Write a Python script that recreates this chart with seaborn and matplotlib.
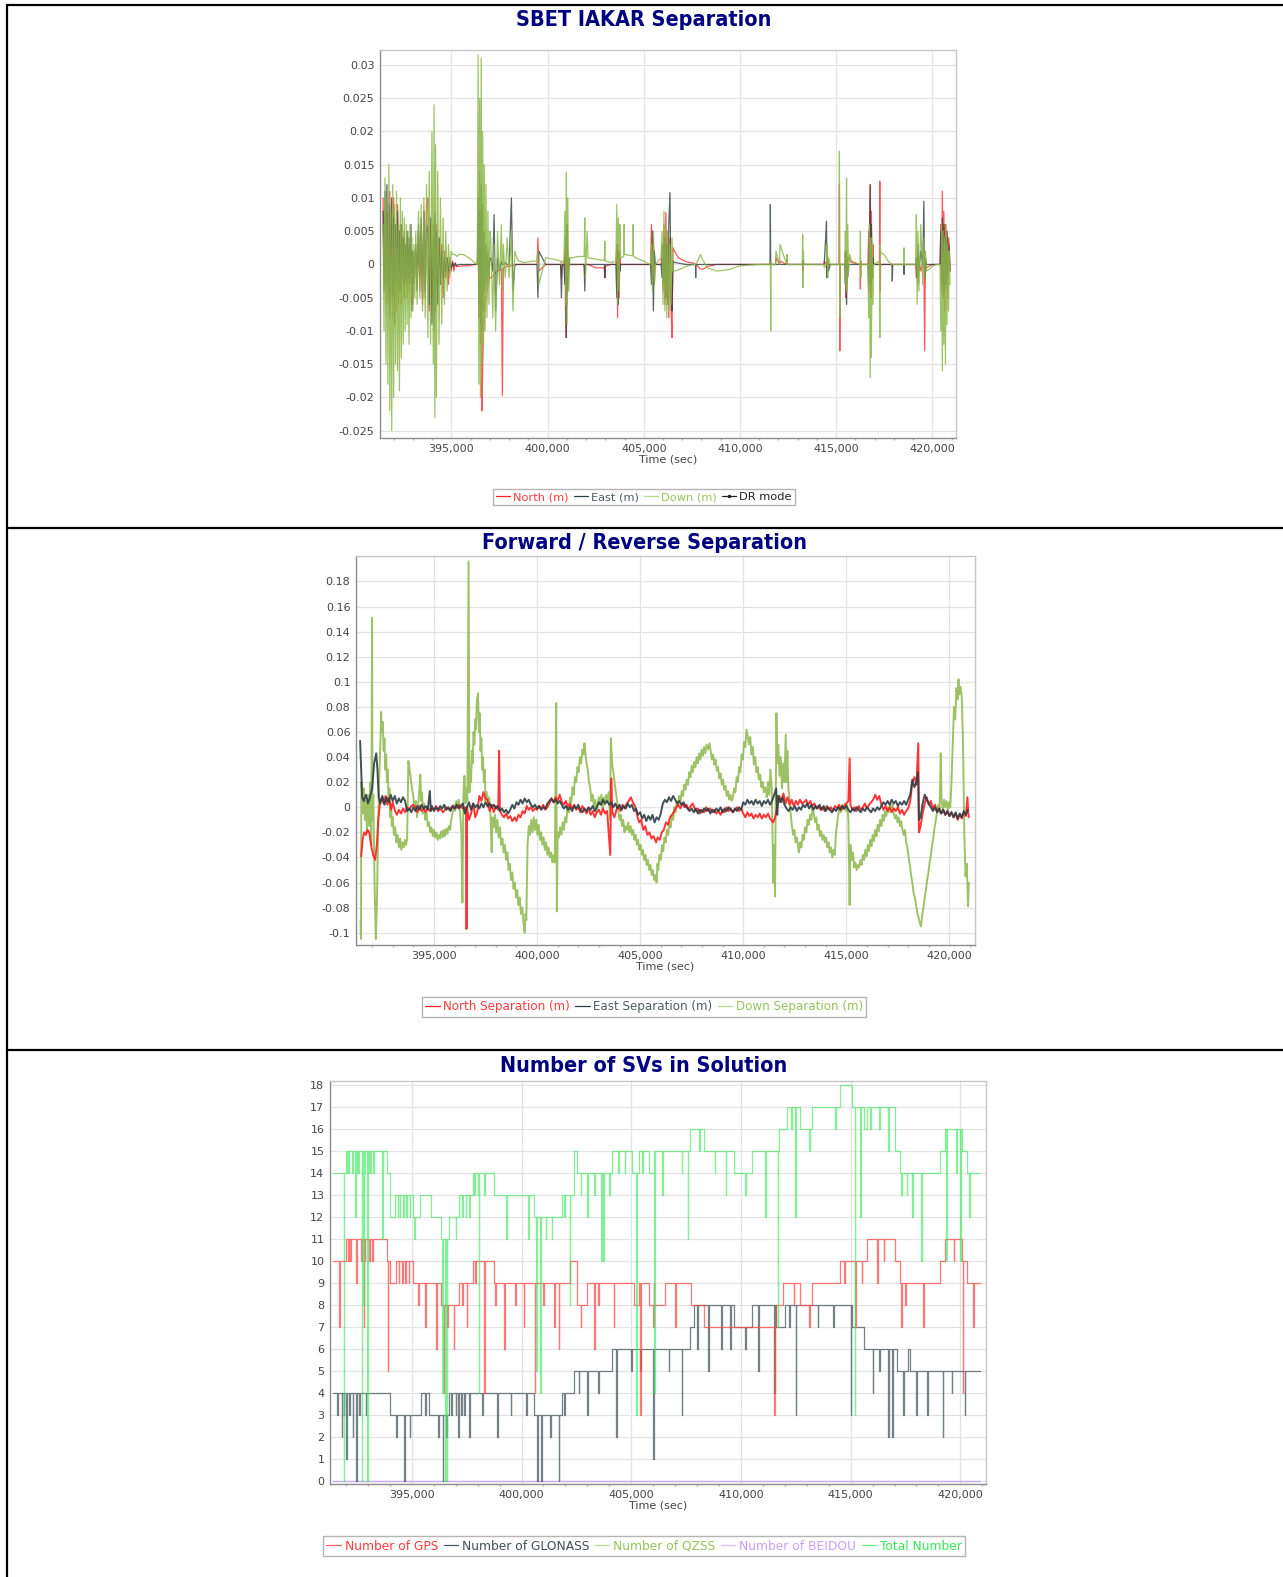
import numpy as np
import matplotlib
matplotlib.use("Agg")
import matplotlib.pyplot as plt
from matplotlib.lines import Line2D
from matplotlib.ticker import MultipleLocator
import seaborn as sns

W, H = 1283, 1577

# ---------------- SBET IAKAR separation, values in mm, shared time grid ----------------
sbet_time = [
    391450, 391500, 391550, 391600, 391650, 391700, 391750, 391800, 391850, 391900, 391950, 392000, 392050, 392100, 392150, 392200, 392250,
    392300, 392350, 392400, 392450, 392500, 392550, 392600, 392650, 392700, 392750, 392800, 392850, 392900, 392950, 393000, 393050, 393100,
    393150, 393220, 393290, 393360, 393430, 393500, 393570, 393640, 393710, 393780, 393850, 393920, 393990, 394060, 394100, 394140, 394180,
    394220, 394290, 394360, 394430, 394500, 394570, 394640, 394710, 394780, 394850, 394920, 394990, 395060, 395130, 395200, 395270,
    395400, 395600, 395800, 396000, 396200, 396330,
    396350, 396390, 396430, 396470, 396510, 396550, 396590, 396630, 396670, 396710, 396750, 396800, 396850, 396900, 396950, 397000,
    397050, 397150, 397220, 397300, 397400, 397500, 397600, 397650, 397700, 397800, 397900, 398000, 398120, 398200, 398300, 398400, 398500,
    398800, 399200, 399450, 399500, 399550, 399900, 400300, 400680, 400720, 400760,
    400850, 400900, 400950, 400980, 401010, 401050, 401100, 401150,
    401300, 401600, 401900, 401935, 401970, 402056, 402100, 402500, 402950, 402975, 403000, 403300,
    403550, 403600, 403640, 403680, 403720, 403760, 403800,
    403960, 403980, 404000, 404430, 404448, 404470, 404600, 405000,
    405350, 405400, 405450, 405500, 405550, 405600,
    405900, 405950, 406000, 406050, 406100, 406150, 406200, 406250, 406300, 406360, 406420, 406470, 406520,
    406600, 406800, 407200, 407600,
    407690, 407700, 407710, 407950, 408000, 408100, 408300,
    408800, 409400, 410000, 411000,
    411560, 411580, 411600, 411620, 411640,
    411850, 411870, 412060, 412080, 412430, 412450, 412470,
    413240, 413260, 413280, 413300, 413320,
    414360, 414380, 414500, 414520, 414560, 414600, 414700,
    415150, 415170, 415190, 415210, 415450, 415480, 415510, 415540, 415570, 415600, 415650, 415700, 415750, 415800,
    416240, 416260, 416280, 416300,
    416650, 416690, 416730, 416770, 416800, 416830, 416870, 416910, 416950,
    417250, 417270, 417290, 417310, 417500, 417700,
    417900, 417920, 417940, 418510, 418530, 418550,
    419130, 419170, 419210, 419250, 419300, 419400, 419500, 419560, 419600, 419640, 419700, 419800, 420000, 420200,
    420400, 420440, 420480, 420520, 420560, 420600, 420640, 420680, 420720, 420760, 420800, 420840, 420880, 420920,
]
sbet_north_mm = [
    10, -3, 5, -6, 8, 2, -4, 11, -5, 6, -8, 10, -2, 5, -7, 9, 3, -4, 6, -6, 4, -3, 5, -2, 3, -5, 2, -4, 3, -1, 2, -6, 1, -2,
    2, -3, 5, -4, 6, -6, 8, -5, 9, 10, -7, 6, -5, 4, -8, 7, -4, 6, -3, 4, -2, 3, -5, 2, -2, 1, -3, 1, -1, 0.5, -1, 0.2, -0.3,
    -0.3, -0.2, -0.2, -0.1, 0, 0,
    0, 5, -8, 14, -12, 8, -22, -15, -10, -8, -6, -5, -4, -3, -2.5, -2,
    -2, -1.8, -1.5, -1.2, -1.0, -0.8, -0.7, -19.7, -0.5, -0.4, -0.3, -0.2, -0.2, -0.1, -0.1, 0, 0,
    0, 0, 0, 4, -1, 0, 0, 0, -2, 0,
    0, 2, -11, 3, -6, 2, -1, 0,
    0, 0, 0, -1.5, 0, 0, 0, -0.5, -0.5, -2, -0.3, 0,
    0, 3, -8, 2, -5, 1, 0,
    0, 0, 0, 0, 0, 0, 0, 0,
    0, 6, -2, 4, -3, 0,
    0, 3, -4, 6, -6, 7.8, -5, 5, -8, 4, -7, -11, 2.5,
    2, 1, 0.4, 0.2,
    0, 0, 0, -0.7, -0.7, -0.7, -0.3,
    0, 0, 0, 0,
    0, 0, 0, 0, 0,
    0, 1, 0, 0.5, 0, 0.8, 0,
    0, 0.5, -1, 0.3, 0,
    0, 0.5, 0, -0.5, 0.3, 0, 0,
    0, 12, -13, 0, 0, 2, -5, 1, -3, 0.5, 1, 0.8, 0.5, 0.3,
    0, -3.7, 0.5, 0,
    0, 5, -4, 12, -3, 8, -2, 3, 0,
    0, 12.5, -4, 0, 0, 0,
    0, 0, 0, 0, 0, 0,
    0, -2, 1, -3, 0.5, -1, 0.3, 0, -13, 0.5, -0.5, -0.3, 0, 0,
    0, 6, -4, 11, -3, 8, -7, 6, -2, 5, -5, 4, 3, -1,
]
sbet_east_mm = [
    8, -4, 11, -3, 12, -6, 9, -8, 4, 10, -5, 7, -9, 6, -3, 8, -6, 5, -4, 6, -2, 4, -5, 3, -3, 5, -2, 4, -3, 6, -7, 2, -3, 1,
    3, -4, 6, -2, 7, -5, 8, -4, 6, 5, -6, 7, -9, 6, -10, 8, -7, 5, -6, 4, -3, 2, -2, 1, -1, 1, -1, 0.5, -0.5, 0.3, -0.3, 0.2, -0.2,
    0, 0, 0, 0, 0, 0,
    0, 10, -6, 8, -9, 12, -10, 9, -7, 5, -4, 3, -3, 2, -2, 1,
    1, -1, 7.5, -7, 1, -1, 0.5, 0, 0, 0.3, 0, 0, 10, -4, 0, 0, 0,
    0, 0, 0, -5, 2, 0, 0, 0, -5, 0,
    0, -3, 4, -11, 6, -4, 1, 0,
    0, 0, 0, -4, 0, 0, 0, 0, 0, -2, 0, 0,
    0, -5, 3, -6, 2, -1, 0,
    0, 0, 0, 0, 0, 0, 0, 0,
    0, -3, 5, -7, 2, 0,
    0, -2, 3, -3, 4, -5, 3, -6, 6, 10.8, -5, -7, 0.5,
    0.3, 0.2, 0, 0,
    0, -2, 0, 0, 0, 0, 0,
    0, 0, 0, 0,
    0, 9, 0, 0, 0,
    0, 0, 0, 0, 0, 0, 0,
    0, 0, 0.5, 0, 0,
    0, 0, 6.5, -2, 1, -1, 0,
    0, 0, 0, 0, 0, -3, 2, -6, 1, -2, 0, 0, 0, 0,
    0, 0, 0, 0,
    0, -3, 4, 12, -5, 6, -2, 1, 0,
    0, 0, 0, 0, 0, 0,
    0, -2.5, 0, 0, -1.5, 0,
    0, 1, -2, 3, -1, 2, 0, 9.5, -2, 1, 0, 0, 0, 0,
    0, 5, -3, 7, -5, 6, -4, 4, -3, 5, -2, 3, 2, -1,
]
sbet_down_mm = [
    6, -10, 13, -15, 10, -18, 15, -22, 8, -25, 12, -20, 9, -15, 11, -16, 6, -19, 10, -14, 8, -12, 7, -10, 6, -9, 5, -12, 6, -8, 4, -7, 3, -5,
    5, -6, 8, -5, 9, -7, 10, -8, 12, -11, 14, -12, 20, -15, 24, -23, 18, -20, 14, -12, 10, -9, 7, -6, 5, -4, 3, -2, 2, 1.5, 1.5, 1.5, 1.2,
    1.5, 1.5, 1.2, 0.8, 0.3, 0,
    0, 31.5, -18, 25, -20, 31, -15, 20, -12, 15, -10, 12, -8, 8, -6, 5,
    4, -8, 3, -10, 5, -3, 6, -4, 3, -2, 4, -2, 5, -7, 2, 1, 0.5,
    0.3, 0.5, 0.5, 2, -3, 1, 0.8, 0.5, 0, 0.5,
    0.5, 8, -6, 13.8, -9, 10, -4, 1,
    1, 1.2, 1.2, 7, -2, 5, 1, 0.8, 0.6, 3.5, 0.5, 0.3,
    0.5, 9, -6, 7, -4, 6, 1,
    1.2, 6, 1.5, 1.3, 6, 1.2, 1.0, 0.5,
    0, 3, -4, 5, -3, 0,
    1, 5, -6, 8, -7, 6, -8, 5, -7, 3, -6, 4, -1,
    -1, -0.8, -0.3, 0,
    0, 0, 0, 1.5, 1.0, 0.5, -0.5,
    -1, -0.8, -0.2, 0,
    0, 0, -10, 0.5, 0,
    0, 2, 0, 3, 0, 1.5, 0,
    0, 4.5, -3.5, 2, 0,
    0, -0.5, 0, 3, -2, 1, 0,
    0, 17, -8, 0, 0, 5, -3, 13, -4, 6, -1, 1.5, 1, 0.5,
    0, 5, -2, 0,
    0, -8, 6, -17, 4, -14, 3, -6, 0,
    0.5, -11, 3, 1.8, 1.5, 0.5,
    0, 0, 0, 0, 2.5, 0,
    0, 7.5, -6, 5, -4, 6, -3, 4, -2, 2, -1, -0.8, -0.3, 0,
    0, -10, 6, -16, 5, -12, 4, -15, 6, -9, 3, -7, 2, -3,
]

# ---------------- Forward / reverse separation, (time, cm) ----------------
fr_north_cm = [
    (391470, -3.9), (391550, -2.5), (391620, -2.0), (391700, -2.2), (391780, -1.8), (391860, -2.0), (391950, -3.0), (392050, -3.8),
    (392150, -4.2), (392230, -3.0), (392300, -1.0), (392380, 0.3), (392470, 0.8), (392560, 0.3), (392650, 0.9), (392740, 0.2),
    (392830, 0.7), (392920, -0.2), (393000, 0.4), (393110, -0.3), (393200, -0.6), (393300, -0.2), (393400, -0.5), (393500, -0.1),
    (393600, -0.4), (393700, 0.0), (393800, -0.2), (393900, 0.1), (394000, 0.2), (394100, 0.0), (394200, -0.4), (394300, 0.1),
    (394400, -0.3), (394500, -0.1), (394600, -0.4), (394700, 0.0), (394800, -0.3), (394900, -0.1), (395000, -0.2), (395100, 0.1),
    (395200, -0.3), (395300, -0.1), (395450, -0.4), (395600, 0.0), (395750, -0.2), (395900, 0.1), (396050, -0.1), (396200, 0.2),
    (396400, -0.1), (396560, 0.0), (396580, -9.7), (396600, 0.0), (396700, -1.0), (396800, -0.5), (396900, 0.3), (397000, -0.8),
    (397100, -0.4), (397200, 0.9), (397300, 0.5), (397400, 1.2), (397500, 0.7), (397600, 0.6), (397700, -0.3), (397800, 0.2),
    (397900, -0.4), (398000, 0.1), (398120, -0.2), (398160, 4.5), (398200, -0.3), (398300, -0.6), (398400, -0.8), (398500, -0.5),
    (398600, -0.9), (398700, -0.7), (398800, -1.1), (398920, -0.8), (399000, -1.1), (399100, -0.6), (399200, -0.8), (399300, -0.3),
    (399400, -0.5), (399500, 0.1), (399600, -0.2), (399700, 0.0), (399800, -0.3), (399900, -0.1), (400000, -0.2), (400100, 0.1),
    (400200, -0.1), (400300, 0.2), (400400, -0.2), (400500, 0.0), (400600, 0.3), (400700, 0.7), (400800, 0.4), (400900, 0.8),
    (401000, 0.5), (401100, 1.0), (401200, 0.4), (401300, 0.2), (401400, 0.5), (401500, 0.0), (401600, 0.3), (401700, -0.1),
    (401800, 0.2), (401900, -0.2), (402000, 0.0), (402100, -0.4), (402200, 0.1), (402300, -0.2), (402400, -0.5), (402500, -0.1),
    (402600, -0.6), (402700, -0.3), (402800, -0.8), (402900, -0.4), (403000, -0.2), (403100, -0.6), (403200, -0.1), (403300, -0.5),
    (403400, -0.3), (403550, -3.8), (403600, 2.3), (403650, -0.4), (403750, -0.8), (403850, -0.2), (403950, 0.1), (404050, -0.3),
    (404150, 0.2), (404250, -0.1), (404350, 0.3), (404450, 0.5), (404550, 0.8), (404650, 0.4), (404750, 0.1), (404850, -0.6),
    (404950, -1.2), (405050, -1.0), (405150, -1.8), (405250, -1.5), (405350, -2.2), (405450, -2.0), (405550, -2.5), (405650, -2.3),
    (405770, -2.8), (405850, -2.4), (405950, -2.6), (406050, -2.0), (406150, -1.8), (406250, -1.2), (406350, -1.4), (406450, -0.8),
    (406550, -0.6), (406650, -0.3), (406750, 0.0), (406850, 0.2), (406950, -0.1), (407050, 0.3), (407150, 0.0), (407250, 0.2),
    (407350, -0.2), (407450, 0.1), (407550, 0.3), (407700, -0.3), (407800, -0.1), (407900, -0.5), (408000, -0.2), (408100, -0.4),
    (408200, 0.0), (408300, -0.3), (408400, -0.1), (408500, -0.4), (408600, -0.2), (408700, -0.5), (408800, -0.3), (408900, -0.6),
    (409000, -0.2), (409100, -0.4), (409200, 0.0), (409300, -0.3), (409400, -0.1), (409500, -0.4), (409600, -0.2), (409700, 0.0),
    (409800, -0.3), (409900, -0.1), (410000, -0.5), (410100, -0.8), (410200, -0.4), (410300, -0.7), (410400, -0.5), (410500, -0.9),
    (410600, -0.6), (410700, -0.8), (410800, -0.5), (410900, -0.9), (411000, -0.6), (411100, -0.8), (411200, -0.5), (411300, -0.9),
    (411450, -1.2), (411550, -0.8), (411650, 0.2), (411750, 0.9), (411850, 0.4), (411950, 1.1), (412050, 0.3), (412150, 0.8),
    (412250, 0.2), (412350, 0.6), (412450, 0.1), (412550, 0.5), (412650, 0.2), (412750, 0.6), (412850, 0.3), (412950, 0.4),
    (413050, 0.6), (413150, 0.2), (413250, 0.5), (413350, 0.1), (413450, 0.3), (413550, -0.1), (413650, 0.1), (413750, -0.2),
    (413850, 0.0), (413950, -0.3), (414050, 0.1), (414150, -0.2), (414250, 0.0), (414350, -0.3), (414450, 0.1), (414550, -0.1),
    (414650, 0.2), (414750, -0.2), (414850, 0.0), (414950, 0.2), (415100, 0.5), (415160, 3.9), (415200, 0.2), (415300, -0.2),
    (415400, 0.0), (415500, -0.3), (415600, 0.1), (415700, -0.2), (415800, 0.0), (415900, 0.3), (416000, -0.1), (416100, 0.2),
    (416200, 0.4), (416300, 0.6), (416400, 1.0), (416500, 0.6), (416600, 0.9), (416700, 0.2), (416800, -0.2), (416900, 0.1),
    (417000, -0.3), (417100, 0.0), (417200, -0.4), (417300, -0.1), (417400, -0.3), (417500, 0.0), (417600, -0.5), (417700, -0.2),
    (417800, -0.6), (417900, -0.3), (418000, -0.1), (418100, 0.5), (418200, 2.0), (418300, 2.4), (418400, 1.8), (418490, 5.1),
    (418520, -2.0), (418600, -1.5), (418700, -0.5), (418800, 0.3), (418900, 0.8), (419000, 0.2), (419100, 0.5), (419200, -0.1),
    (419300, 0.2), (419400, -0.3), (419500, -0.1), (419600, -0.5), (419700, -0.2), (419800, -0.6), (419900, -0.3), (420000, -0.7),
    (420100, -0.4), (420200, -0.8), (420300, -0.5), (420400, -1.0), (420500, -0.6), (420600, -0.9), (420700, -0.4), (420800, -0.7),
    (420870, 0.8), (420930, -0.8),
]
fr_east_cm = [
    (391420, 5.3), (391470, 3.0), (391520, 0.8), (391600, 0.5), (391700, 1.0), (391800, 0.3), (391900, 0.8), (392000, 1.5),
    (392100, 3.5), (392200, 4.3), (392260, 3.0), (392320, 0.8), (392400, 0.3), (392500, 0.9), (392600, 0.2), (392700, 0.8),
    (392800, 0.4), (392900, 1.0), (393000, 0.5), (393100, 0.9), (393200, 0.3), (393300, 0.7), (393400, 0.4), (393500, 0.8),
    (393600, 0.5), (393700, -0.3), (393800, -0.1), (393900, -0.4), (394000, 0.0), (394100, -0.3), (394200, 0.1), (394300, -0.2),
    (394400, 0.2), (394500, -0.1), (394600, 0.1), (394700, -0.2), (394800, 1.3), (394850, -0.3), (394900, 0.1), (395000, -0.3),
    (395100, 0.0), (395200, -0.2), (395300, 0.1), (395400, -0.1), (395500, 0.2), (395600, -0.2), (395700, 0.0), (395800, -0.3),
    (395900, 0.1), (396000, -0.1), (396100, 0.2), (396200, -0.1), (396300, 0.1), (396400, 0.3), (396500, -0.5), (396600, 0.0),
    (396700, 0.4), (396800, -0.2), (396900, 0.3), (397000, 0.0), (397100, 0.2), (397200, -0.1), (397300, 0.3), (397400, 0.0),
    (397500, 0.4), (397600, 0.1), (397700, 0.3), (397800, 0.0), (397900, 0.2), (398000, -0.1), (398100, 0.1), (398200, -0.3),
    (398300, -0.1), (398400, -0.4), (398500, -0.2), (398600, -0.5), (398700, -0.2), (398800, 0.2), (398900, -0.1), (399000, 0.4),
    (399100, 0.2), (399200, 0.6), (399300, 0.3), (399400, 0.7), (399500, 0.4), (399600, 0.6), (399700, 0.2), (399800, 0.0),
    (399900, 0.2), (400000, -0.1), (400100, 0.1), (400200, -0.2), (400300, 0.0), (400400, -0.1), (400500, 0.3), (400600, 0.5),
    (400700, 0.7), (400800, 0.4), (400900, 0.6), (401000, 0.3), (401100, 0.5), (401200, 0.2), (401300, -0.1), (401400, 0.1),
    (401500, -0.2), (401600, 0.0), (401700, -0.3), (401800, 0.1), (401900, -0.1), (402000, 0.2), (402100, -0.2), (402200, -0.4),
    (402300, -0.1), (402400, -0.3), (402500, 0.0), (402600, -0.2), (402700, 0.1), (402800, -0.3), (402900, 0.0), (403000, 0.4),
    (403100, 0.2), (403200, 0.6), (403300, 0.3), (403400, 0.5), (403500, 0.2), (403600, 0.4), (403700, 0.0), (403800, 0.3),
    (403900, -0.1), (404000, 0.2), (404100, -0.2), (404200, 0.1), (404300, -0.1), (404400, 0.3), (404500, 0.0), (404600, 0.2),
    (404700, -0.3), (404800, -0.1), (404900, -0.6), (405000, -0.4), (405100, -0.9), (405200, -0.6), (405300, -1.1), (405400, -0.7),
    (405500, -1.0), (405600, -0.6), (405700, -1.2), (405800, -0.8), (405900, -1.0), (406000, -0.5), (406100, 0.3), (406200, 0.6),
    (406300, 0.4), (406400, 0.8), (406500, 0.5), (406600, 0.9), (406700, 0.6), (406800, 0.3), (406900, 0.5), (407000, 0.2),
    (407100, 0.4), (407200, 0.1), (407300, -0.1), (407400, -0.3), (407500, -0.1), (407600, -0.4), (407700, -0.1), (407800, -0.5),
    (407900, -0.2), (408000, -0.4), (408100, -0.1), (408200, -0.3), (408300, -0.1), (408400, -0.5), (408500, -0.2), (408600, -0.4),
    (408700, -0.1), (408800, -0.3), (408900, 0.0), (409000, -0.4), (409100, -0.1), (409200, -0.3), (409300, 0.0), (409400, -0.2),
    (409500, -0.4), (409600, -0.1), (409700, -0.3), (409800, 0.0), (409900, -0.2), (410000, 0.4), (410100, 0.2), (410200, 0.6),
    (410300, 0.3), (410400, 0.5), (410500, 0.2), (410600, 0.6), (410700, 0.3), (410800, 0.5), (410900, 0.1), (411000, 0.5),
    (411100, 0.3), (411200, 0.6), (411300, 0.2), (411400, 0.5), (411500, 1.0), (411600, 1.5), (411650, -0.6), (411700, 0.9),
    (411800, 0.4), (411900, 0.8), (412000, 0.2), (412100, -0.1), (412200, -0.3), (412300, 0.0), (412400, -0.2), (412500, 0.1),
    (412600, -0.3), (412700, 0.0), (412800, -0.2), (412900, 0.2), (413000, 0.0), (413100, 0.3), (413200, -0.1), (413300, 0.2),
    (413400, -0.2), (413500, 0.1), (413600, -0.1), (413700, 0.2), (413800, -0.2), (413900, 0.1), (414000, -0.3), (414100, 0.0),
    (414200, -0.2), (414300, -0.4), (414400, -0.1), (414500, -0.3), (414600, 0.0), (414700, -0.2), (414800, 0.1), (414900, -0.1),
    (415000, 0.1), (415100, -0.2), (415200, -0.4), (415300, -0.1), (415400, -0.3), (415500, 0.0), (415600, -0.2), (415700, -0.4),
    (415800, -0.1), (415900, -0.3), (416000, 0.0), (416100, -0.2), (416200, -0.4), (416300, -0.1), (416400, -0.3), (416500, 0.0),
    (416600, -0.2), (416700, 0.1), (416800, 0.4), (416900, 0.2), (417000, 0.5), (417100, 0.2), (417200, 0.6), (417300, 0.3),
    (417400, 0.5), (417500, 0.1), (417600, 0.4), (417700, 0.2), (417800, 0.5), (417900, 0.2), (418000, 0.6), (418100, 1.0),
    (418200, 2.2), (418300, 1.6), (418400, 2.0), (418480, 2.8), (418520, -1.0), (418600, -0.8), (418700, 0.3), (418800, 1.0),
    (418900, 0.6), (419000, 0.3), (419100, 0.0), (419200, -0.3), (419300, 0.0), (419400, -0.4), (419500, -0.1), (419600, -0.5),
    (419700, -0.2), (419800, -0.6), (419900, -0.3), (420000, -0.7), (420100, -0.4), (420200, -0.8), (420300, -0.4), (420400, -0.9),
    (420500, -0.5), (420600, -0.8), (420700, -0.3), (420800, -0.6), (420900, -0.2),
]
fr_down_cm = [
    (391440, -9.0), (391460, -10.5), (391480, 2.0), (391520, 1.0), (391560, -0.5), (391600, 1.5), (391650, -1.0), (391700, 0.5),
    (391750, -2.0), (391800, 1.0), (391860, -1.5), (391920, 2.0), (391960, -3.0), (392000, 15.1), (392020, -1.0), (392060, 1.0),
    (392120, -6.0), (392180, -10.5), (392230, -8.0), (392280, -3.0), (392340, 2.0), (392400, 5.0), (392440, 7.6), (392480, 6.0),
    (392520, 6.8), (392560, 4.5), (392600, 5.5), (392640, 3.0), (392680, 4.2), (392720, 2.0), (392760, 3.0), (392800, 0.5),
    (392840, 1.5), (392880, -0.8), (392920, 0.2), (392960, -1.5), (393000, -0.8), (393060, -2.2), (393120, -1.6), (393180, -2.8),
    (393240, -2.2), (393300, -3.2), (393360, -2.5), (393420, -3.4), (393480, -2.8), (393540, -3.2), (393600, -2.6), (393650, -3.0),
    (393700, -2.5), (393760, 3.7), (393820, 3.0), (393880, 2.2), (393940, 1.5), (394000, 0.8), (394060, 0.0), (394120, 0.5),
    (394180, -0.8), (394240, 0.3), (394300, 1.5), (394340, 2.6), (394380, 0.5), (394420, 1.2), (394460, -0.5), (394520, 0.3),
    (394580, -1.0), (394640, -0.5), (394700, -1.5), (394760, -1.2), (394820, -2.0), (394880, -1.6), (394940, -2.3), (395000, -1.8),
    (395060, -2.4), (395120, -2.0), (395180, -2.6), (395240, -2.2), (395300, -2.5), (395360, -1.9), (395420, -2.4), (395480, -1.8),
    (395540, -2.3), (395600, -1.7), (395660, -2.1), (395720, -1.5), (395780, -1.8), (395840, -1.0), (395900, -0.5), (395960, 0.2),
    (396020, -0.3), (396080, 0.5), (396140, 0.0), (396200, 0.6), (396260, -0.2), (396330, -2.0), (396380, -7.6), (396430, 1.0),
    (396480, 2.5), (396530, 0.3), (396580, 1.5), (396620, 0.5), (396680, 19.6), (396720, 1.2), (396760, 3.0), (396800, 2.0),
    (396840, 4.5), (396880, 3.5), (396920, 6.0), (396960, 5.0), (397000, 7.0), (397040, 6.2), (397080, 8.5), (397140, 9.1),
    (397180, 6.0), (397220, 7.5), (397260, 4.5), (397300, 5.5), (397340, 3.0), (397380, 4.0), (397420, 2.0), (397460, 3.0),
    (397500, 0.5), (397560, 1.2), (397620, 0.0), (397680, 0.8), (397740, -0.5), (397800, -3.6), (397840, -0.8), (397900, -1.6),
    (397960, -0.6), (398020, -2.0), (398080, -1.0), (398140, -2.4), (398200, -1.6), (398260, -3.0), (398320, -2.5), (398380, -3.6),
    (398440, -3.0), (398500, -4.2), (398560, -3.6), (398620, -5.0), (398680, -4.5), (398740, -5.8), (398800, -5.2), (398860, -6.5),
    (398920, -6.0), (398980, -7.2), (399040, -6.6), (399100, -7.8), (399160, -7.2), (399220, -8.5), (399280, -8.0), (399340, -9.2),
    (399400, -10.0), (399440, -8.5), (399480, -9.0), (399540, -3.0), (399600, -1.5), (399660, -2.2), (399720, -1.0), (399780, -2.0),
    (399840, -0.8), (399900, -1.8), (399960, -1.0), (400020, -2.2), (400080, -1.4), (400140, -2.6), (400200, -2.0), (400260, -3.0),
    (400320, -2.4), (400380, -3.4), (400440, -2.8), (400500, -3.8), (400560, -3.2), (400620, -4.0), (400680, -3.6), (400740, -4.4),
    (400800, -3.8), (400860, -4.4), (400930, 8.3), (400960, -8.3), (401000, -2.0), (401060, -2.4), (401120, -1.6), (401180, -2.2),
    (401240, -1.2), (401300, -1.8), (401360, -0.8), (401420, -1.2), (401480, 0.0), (401540, -0.4), (401600, 0.8), (401660, 0.4),
    (401720, 1.6), (401780, 1.0), (401840, 2.4), (401900, 2.0), (401960, 3.2), (402020, 2.8), (402080, 4.0), (402140, 3.5),
    (402200, 4.6), (402260, 4.2), (402300, 5.1), (402340, 4.4), (402400, 3.5), (402460, 3.0), (402520, 2.0), (402580, 1.5),
    (402640, 0.5), (402700, 1.0), (402760, 0.0), (402820, 0.6), (402880, -0.4), (402940, 0.3), (403000, 0.8), (403060, 0.2),
    (403120, 1.0), (403180, -0.2), (403240, 0.8), (403300, 0.2), (403360, 1.0), (403420, 0.4), (403480, 1.2), (403540, -1.0),
    (403580, 5.5), (403640, 3.5), (403700, 2.8), (403760, 2.0), (403820, 1.2), (403880, 0.5), (403940, -0.3), (404000, -1.0),
    (404060, -0.6), (404120, -1.5), (404180, -1.0), (404240, -2.0), (404300, -1.5), (404360, -1.8), (404420, -1.2), (404480, -2.0),
    (404540, -1.5), (404600, -2.2), (404660, -1.8), (404720, -2.6), (404780, -2.2), (404840, -3.0), (404900, -2.6), (404960, -3.4),
    (405020, -3.0), (405080, -3.8), (405140, -3.4), (405200, -4.2), (405260, -3.8), (405320, -4.6), (405380, -4.2), (405440, -5.0),
    (405500, -4.6), (405560, -5.4), (405620, -5.0), (405680, -5.8), (405740, -5.4), (405800, -6.0), (405840, -4.5), (405880, -5.0),
    (405940, -3.8), (406000, -4.2), (406060, -3.0), (406120, -3.5), (406180, -2.4), (406240, -2.8), (406300, -1.8), (406360, -2.2),
    (406420, -1.2), (406480, -1.6), (406540, -0.6), (406600, -1.0), (406660, 0.0), (406720, -0.4), (406780, 0.5), (406840, 0.1),
    (406900, 0.9), (406960, 0.5), (407020, 1.3), (407080, 0.9), (407140, 1.8), (407200, 1.4), (407260, 2.2), (407320, 1.8),
    (407380, 2.8), (407440, 2.4), (407500, 3.3), (407560, 2.8), (407620, 3.6), (407680, 3.2), (407740, 4.0), (407800, 3.5),
    (407860, 4.3), (407920, 3.8), (407980, 4.6), (408040, 4.1), (408100, 4.8), (408160, 4.3), (408220, 5.0), (408300, 4.6),
    (408360, 5.1), (408420, 4.5), (408480, 3.8), (408540, 4.2), (408600, 3.4), (408660, 3.8), (408720, 2.9), (408780, 3.2),
    (408840, 2.3), (408900, 2.7), (408960, 1.8), (409020, 2.2), (409080, 1.4), (409140, 1.7), (409200, 0.9), (409260, 1.3),
    (409320, 0.6), (409380, 1.0), (409440, 0.5), (409500, 0.8), (409560, 1.5), (409620, 1.2), (409680, 2.4), (409740, 2.0),
    (409800, 3.2), (409860, 2.8), (409920, 4.2), (409980, 3.8), (410040, 5.2), (410100, 4.8), (410160, 6.2), (410220, 5.6),
    (410280, 5.0), (410340, 5.6), (410400, 4.2), (410460, 4.8), (410520, 3.4), (410580, 4.0), (410640, 2.8), (410700, 3.2),
    (410760, 2.2), (410820, 2.6), (410880, 1.6), (410940, 2.0), (411000, 1.2), (411060, 1.6), (411100, 1.4), (411140, 0.8),
    (411200, 2.0), (411260, 1.0), (411320, 3.0), (411380, 1.5), (411420, -2.5), (411460, -6.0), (411500, -3.0), (411540, -7.1),
    (411580, 1.0), (411610, 7.5), (411650, 3.5), (411700, 5.0), (411760, 2.5), (411820, 4.0), (411880, 1.5), (411940, 3.5),
    (412000, 2.0), (412060, 5.8), (412100, 2.0), (412140, 4.5), (412190, 1.5), (412240, 0.8), (412300, -0.5), (412360, -1.5),
    (412420, -2.2), (412480, -1.8), (412540, -2.8), (412600, -2.4), (412660, -3.2), (412700, -3.6), (412760, -2.8), (412820, -3.2),
    (412880, -2.2), (412940, -2.6), (413000, -1.6), (413060, -2.0), (413120, -1.0), (413180, -1.4), (413240, -0.6), (413300, -1.0),
    (413360, 0.0), (413420, -0.5), (413480, -1.2), (413540, -0.8), (413600, -1.8), (413660, -1.4), (413720, -2.3), (413780, -1.9),
    (413840, -2.6), (413900, -2.2), (413960, -2.8), (414020, -2.4), (414080, -3.2), (414140, -2.8), (414200, -3.6), (414260, -3.2),
    (414320, -4.0), (414380, -3.4), (414440, -3.8), (414500, -2.0), (414560, -1.2), (414620, -0.5), (414680, 0.0), (414740, -0.4),
    (414800, 0.2), (414860, -0.2), (414920, 0.3), (414980, -0.3), (415040, 0.2), (415100, -1.0), (415160, -7.8), (415200, -3.0),
    (415260, -4.2), (415320, -3.6), (415380, -4.8), (415440, -4.4), (415500, -5.0), (415560, -4.6), (415620, -4.8), (415680, -4.2),
    (415740, -4.6), (415800, -3.8), (415860, -4.2), (415920, -3.4), (415980, -3.9), (416040, -3.0), (416100, -3.5), (416160, -2.6),
    (416220, -3.1), (416280, -2.2), (416340, -2.7), (416400, -1.8), (416460, -2.3), (416520, -1.4), (416580, -1.9), (416640, -1.0),
    (416700, -1.5), (416760, -0.6), (416820, -1.1), (416880, -0.3), (416940, -0.7), (417000, 0.0), (417060, -0.4), (417120, 0.2),
    (417180, -0.2), (417240, 0.3), (417300, -0.5), (417360, -0.9), (417420, -0.6), (417480, -1.2), (417540, -0.8), (417600, -1.5),
    (417660, -1.1), (417720, -1.8), (417780, -2.2), (417840, -1.8), (417900, -2.8), (417960, -3.2), (418020, -4.0), (418080, -4.6),
    (418140, -5.4), (418200, -6.0), (418260, -6.8), (418320, -7.2), (418380, -7.8), (418440, -8.4), (418500, -8.8), (418560, -9.2),
    (418620, -9.5), (418680, -8.6), (418740, -8.0), (418800, -7.2), (418860, -6.6), (418920, -5.8), (418980, -5.2), (419040, -4.4),
    (419100, -3.8), (419160, -3.0), (419220, -2.4), (419280, -1.6), (419340, -1.0), (419400, -0.4), (419460, 0.2), (419520, -0.4),
    (419580, 4.3), (419620, 0.5), (419680, -0.2), (419740, 0.6), (419800, 0.0), (419860, 0.5), (419920, -0.2), (419980, 0.4),
    (420040, 0.0), (420100, 2.0), (420160, 5.0), (420220, 8.0), (420280, 7.0), (420340, 9.5), (420400, 8.6), (420440, 10.2),
    (420480, 9.0), (420540, 9.6), (420600, 8.8), (420660, 5.0), (420720, -2.0), (420780, -5.5), (420840, -4.5), (420900, -7.9),
    (420940, -6.0),
]

# ---------------- Number of SVs: step levels (time, count) and brief drop-outs ----------------
gps_steps = [
    (391410, 10), (391986, 11), (393865, 10), (393986, 9), (394289, 10), (395047, 9), (396334, 8), (397168, 9), (397774, 10),
    (398758, 9), (402200, 10), (402520, 8), (402980, 9), (405121, 8), (405349, 9), (405803, 8), (406030, 9), (407713, 8),
    (408319, 7), (411576, 8), (411910, 9), (412700, 8), (413243, 9), (414530, 10), (415743, 11), (417030, 10), (417258, 9),
    (419076, 10), (419303, 11), (420060, 10), (420287, 9), (420900, 9),
]
gps_drops = [
    (391700, 7), (392100, 10), (392200, 10), (392450, 9), (392700, 10), (392800, 7), (392850, 10), (393050, 10), (393200, 10),
    (393900, 5), (394400, 9), (394550, 9), (394700, 9), (394850, 9), (395300, 8), (395600, 7), (396100, 6), (396450, 4),
    (396600, 7), (396900, 6), (397300, 8), (397500, 7), (397900, 9), (398300, 4), (398800, 8), (399200, 6), (399700, 8),
    (400100, 7), (400600, 4), (401000, 8), (401500, 7), (401700, 6), (402700, 7), (403300, 6), (403500, 8), (404200, 7),
    (405400, 3), (406000, 7), (406500, 8), (407000, 7), (411500, 3), (412400, 8), (413100, 7), (414700, 9), (415200, 7),
    (415500, 9), (416200, 9), (416500, 10), (417300, 7), (417500, 8), (418300, 7), (419700, 10), (420100, 4), (420600, 7),
]
glonass_steps = [
    (391410, 4), (393986, 3), (395425, 4), (395774, 3), (396683, 4), (400576, 3), (401864, 4), (402394, 5), (404137, 6),
    (407683, 7), (407865, 8), (409683, 7), (410516, 8), (411576, 7), (412031, 8), (415061, 7), (415591, 6), (417106, 5),
    (417620, 6), (417700, 5), (420900, 5),
]
glonass_drops = [
    (391600, 3), (391800, 2), (391900, 3), (392000, 1), (392150, 3), (392300, 2), (392450, 0), (392600, 3), (392900, 3),
    (394300, 2), (394650, 0), (394900, 2), (395600, 3), (396200, 2), (396400, 0), (396550, 2), (396800, 3), (397000, 3),
    (397100, 2), (397250, 3), (397400, 3), (397600, 2), (398200, 3), (398900, 2), (399500, 3), (400200, 3), (400700, 0),
    (400900, 0), (401300, 2), (401700, 0), (401950, 3), (402600, 4), (403000, 3), (403500, 4), (404300, 2), (405000, 5),
    (405400, 5), (406000, 1), (406700, 5), (407300, 3), (408000, 6), (408500, 5), (409100, 6), (409500, 6), (410200, 6),
    (410800, 5), (411500, 4), (412200, 7), (412500, 3), (413500, 7), (414200, 7), (415000, 3), (416000, 4), (416300, 5),
    (416700, 2), (416900, 2), (417400, 3), (418000, 3), (418500, 3), (419200, 2), (419600, 4), (420200, 3),
]
qzss_steps = [(391410, 0), (420900, 0)]
beidou_steps = [(391410, 0), (420900, 0)]
total_steps = [
    (391410, 14), (391986, 15), (393865, 14), (393986, 12), (394213, 13), (395047, 12), (395350, 13), (395880, 12),
    (396334, 11), (396713, 12), (397168, 13), (397774, 14), (398758, 13), (400576, 12), (401864, 13), (402394, 15),
    (402546, 14), (404137, 15), (405046, 14), (405349, 15), (405803, 14), (406047, 15), (407683, 16), (408319, 15),
    (409683, 14), (410516, 15), (411728, 16), (412107, 17), (412713, 16), (413243, 17), (414531, 18), (415061, 17),
    (415591, 16), (415743, 17), (417030, 15), (417258, 14), (419076, 15), (419303, 16), (420060, 15), (420287, 14),
    (420900, 14),
]
total_drops = [
    (391900, 0), (392050, 14), (392120, 14), (392280, 14), (392420, 12), (392500, 14), (392560, 14), (392720, 0), (392780, 8),
    (392840, 14), (392960, 0), (393050, 14), (393100, 14), (393250, 14), (393650, 11), (394350, 12), (394450, 12), (394600, 12),
    (394750, 12), (394900, 12), (395120, 11), (396380, 4), (396510, 0), (396590, 0), (397000, 11), (397300, 12), (397450, 12),
    (397600, 12), (397850, 13), (398000, 13), (398050, 4), (398300, 13), (399300, 11), (400290, 11), (400660, 5), (400860, 4),
    (401100, 11), (401370, 11), (401950, 12), (402190, 8), (402700, 13), (402980, 12), (403300, 13), (403630, 10), (403710, 10),
    (404000, 13), (404400, 14), (404700, 14), (405240, 3), (405500, 14), (406060, 4), (406400, 13), (407300, 14), (407580, 11),
    (408100, 15), (408800, 14), (409300, 13), (410200, 13), (411100, 12), (411680, 7), (412300, 16), (412470, 12), (413100, 15),
    (414300, 16), (415187, 3), (415440, 12), (415900, 16), (416300, 16), (416700, 15), (417300, 13), (417550, 13), (417800, 12),
    (418220, 10), (419340, 10), (419800, 14), (420000, 10), (420400, 12),
]

# ---------------- ticks ----------------
x_ticks = [395000, 400000, 405000, 410000, 415000, 420000]
x_tick_labels = ["395,000", "400,000", "405,000", "410,000", "415,000", "420,000"]
sbet_yticks = [-0.025, -0.02, -0.015, -0.01, -0.005, 0, 0.005, 0.01, 0.015, 0.02, 0.025, 0.03]
sbet_ylabels = ["-0.025", "-0.02", "-0.015", "-0.01", "-0.005", "0", "0.005", "0.01", "0.015", "0.02", "0.025", "0.03"]
fr_yticks = [-0.1, -0.08, -0.06, -0.04, -0.02, 0, 0.02, 0.04, 0.06, 0.08, 0.1, 0.12, 0.14, 0.16, 0.18]
fr_ylabels = ["-0.1", "-0.08", "-0.06", "-0.04", "-0.02", "0", "0.02", "0.04", "0.06", "0.08", "0.1", "0.12", "0.14", "0.16", "0.18"]
sv_yticks = list(range(0, 19))
sv_ylabels = [str(v) for v in sv_yticks]

sns.set_theme(style="white")
plt.rcParams["font.family"] = ["DejaVu Sans"]

NAVY = "#000080"
RED, SLATE, OLIVE = "#ff1f1f", "#2e3d44", "#8cb84a"


def box(fig, left, top, right, bottom):
    # pixel box -> figure fraction
    return fig.add_axes([left / W, 1 - bottom / H, (right - left) / W, (bottom - top) / H])


def dress(ax, xlim, ylim, yticks, ylabels):
    ax.set_xlim(*xlim)
    ax.set_ylim(*ylim)
    ax.set_xticks(x_ticks, x_tick_labels)
    ax.set_yticks(yticks, ylabels)
    ax.xaxis.set_minor_locator(MultipleLocator(1000))
    ax.grid(True, which="major", color="#e3e3e3", lw=0.9)
    ax.set_axisbelow(True)
    ax.tick_params(which="major", labelsize=8, labelcolor="#444444", length=2, color="#9a9a9a", pad=2)
    ax.tick_params(which="minor", axis="x", length=1.5, color="#b5b5b5", bottom=True)
    for side in ["top", "right"]:
        ax.spines[side].set_color("#c6c6c6")
    for side in ["left", "bottom"]:
        ax.spines[side].set_color("#8c8c8c")
    for sp in ax.spines.values():
        sp.set_linewidth(1.0)
    ax.set_xlabel("Time (sec)", fontsize=8, color="#444444", labelpad=1)
    ax.set_ylabel("")


def title(fig, text, cy):
    fig.text(644 / W, 1 - cy / H, text, ha="center", va="center", fontsize=15.5,
             fontweight="bold", fontstretch="condensed", color=NAVY)


def legend(fig, items, cy, size):
    handles = [Line2D([], [], color=c, lw=0.9, marker=m, ms=3) for _, c, _, m in items]
    fig.legend(handles, [lab for lab, _, _, _ in items], loc="center",
               bbox_to_anchor=(644 / W, 1 - cy / H), ncol=len(items), fontsize=size,
               frameon=True, fancybox=False, framealpha=1, edgecolor="#b4b4b4",
               handlelength=1.2, handletextpad=0.3, columnspacing=0.45, borderpad=0.3,
               labelcolor=[tc for _, _, tc, _ in items])


def with_drops(steps, drops):
    st = np.array(steps, float)
    t, v = list(st[:, 0]), list(st[:, 1])
    for td, lo in drops:
        level = st[np.searchsorted(st[:, 0], td, side="right") - 1, 1]
        t += [td, td + 30]
        v += [lo, level]
    order = np.argsort(t, kind="stable")
    return np.array(t)[order], np.array(v)[order]


fig = plt.figure(figsize=(W / 100, H / 100), dpi=100)

# page frame of the report table
for seg in [([7, W], [5, 5]), ([7, 7], [5, H]), ([7, W], [528, 528]), ([7, W], [1050, 1050])]:
    fig.add_artist(Line2D(np.array(seg[0]) / W, 1 - np.array(seg[1]) / H, color="black", lw=1.6))

# ---- panel 1 ----
ax1 = box(fig, 380, 50, 956, 438)
t1 = np.array(sbet_time, float)
for vals, col, lw, a in [(sbet_north_mm, RED, 0.9, 0.75), (sbet_east_mm, SLATE, 0.9, 0.8), (sbet_down_mm, OLIVE, 0.9, 0.85)]:
    sns.lineplot(x=t1, y=np.array(vals) / 1000.0, ax=ax1, color=col, lw=lw, alpha=a,
                 estimator=None, sort=False, legend=False)
dress(ax1, (391290, 421230), (-0.0261, 0.03225), sbet_yticks, sbet_ylabels)
title(fig, "SBET IAKAR Separation", 20)
legend(fig, [("North (m)", RED, "#ff3b3b", None), ("East (m)", SLATE, "#4c5c63", None),
             ("Down (m)", "#b5d98a", "#95c45c", None), ("DR mode", "#222222", "#222222", ".")], 497, 8.2)

# ---- panel 2 ----
ax2 = box(fig, 356, 556, 975, 945)
for series, col, lw, a in [(fr_down_cm, OLIVE, 1.4, 0.85), (fr_north_cm, RED, 1.4, 0.9), (fr_east_cm, SLATE, 1.4, 0.9)]:
    arr = np.array(series, float)
    sns.lineplot(x=arr[:, 0], y=arr[:, 1] / 100.0, ax=ax2, color=col, lw=lw, alpha=a,
                 estimator=None, sort=False, legend=False)
dress(ax2, (391220, 421240), (-0.1098, 0.2003), fr_yticks, fr_ylabels)
title(fig, "Forward / Reverse Separation", 543)
legend(fig, [("North Separation (m)", RED, "#ff3b3b", None), ("East Separation (m)", SLATE, "#4c5c63", None),
             ("Down Separation (m)", "#b5d98a", "#95c45c", None)], 1007, 8.6)

# ---- panel 3 ----
ax3 = box(fig, 330, 1081, 986, 1484)
sv_series = [
    (with_drops(qzss_steps, []), "#a8c878", 1.0),
    (with_drops(beidou_steps, []), "#cfa6ff", 1.0),
    (with_drops(glonass_steps, glonass_drops), "#46575e", 0.75),
    (with_drops(gps_steps, gps_drops), "#ff4a4a", 0.75),
    (with_drops(total_steps, total_drops), "#3ee860", 0.65),
]
for (tt, vv), col, a in sv_series:
    sns.lineplot(x=tt, y=vv, ax=ax3, color=col, lw=0.9, alpha=a, drawstyle="steps-post",
                 estimator=None, sort=False, legend=False)
dress(ax3, (391270, 421170), (-0.15, 18.2), sv_yticks, sv_ylabels)
title(fig, "Number of SVs in Solution", 1066)
legend(fig, [("Number of GPS", "#ff6060", "#ff3b3b", None), ("Number of GLONASS", "#46575e", "#3e4f56", None),
             ("Number of QZSS", "#b5d98a", "#95c45c", None), ("Number of BEIDOU", "#d9b8ff", "#cc9cff", None),
             ("Total Number", "#66f080", "#33e855", None)], 1546, 8.8)

fig.savefig("out.png", dpi=100, facecolor="white")
